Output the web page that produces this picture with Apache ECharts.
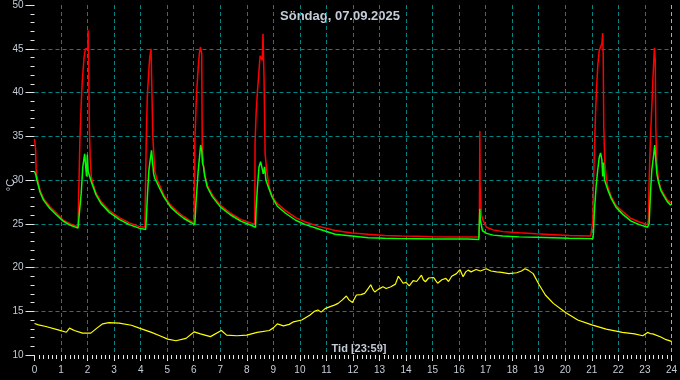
<!DOCTYPE html>
<html>
<head>
<meta charset="utf-8">
<script src="https://cdn.jsdelivr.net/npm/echarts@6/dist/echarts.min.js"></script>
<style>
html,body{margin:0;padding:0;background:#000;}
#wrap{width:680px;height:380px;box-sizing:border-box;border:1px solid #d8d8d8;background:#000;position:relative;}
#chart{position:absolute;left:-1px;top:-1px;width:680px;height:380px;}
</style>
</head>
<body>
<div id="wrap"><div id="chart"></div></div>
<script>
const titleText = "Söndag, 07.09.2025";
const xAxisName = "Tid [23:59]";
const yAxisName = "°C";
const xTicks = [0,24,1];
const yTicks = [10,50,5];

const redT = [0.00,0.03,0.04,0.06,0.09,0.21,0.34,0.58,0.83,1.08,1.33,1.64,1.70,1.71,1.76,1.80,1.84,1.87,1.92,1.97,2.01,2.02,2.04,2.07,2.10,2.14,2.20,2.32,2.51,2.82,3.19,3.57,3.94,4.16,4.20,4.21,4.25,4.29,4.34,4.39,4.42,4.44,4.46,4.50,4.53,4.60,4.69,4.87,5.13,5.38,5.63,5.88,6.01,6.03,6.04,6.09,6.13,6.17,6.21,6.25,6.27,6.30,6.32,6.36,6.41,6.51,6.70,7.01,7.39,7.77,8.14,8.30,8.31,8.35,8.40,8.46,8.50,8.55,8.58,8.61,8.65,8.69,8.75,8.84,8.96,9.15,9.46,9.84,10.21,10.71,11.33,11.96,12.58,13.20,13.83,14.45,15.07,15.70,16.32,16.76,16.77,16.78,16.79,16.84,16.90,17.03,17.28,17.65,18.27,18.90,20.14,20.96,21.02,21.04,21.06,21.10,21.14,21.18,21.23,21.28,21.33,21.38,21.41,21.43,21.45,21.49,21.54,21.60,21.73,21.91,22.16,22.48,22.79,23.10,23.13,23.16,23.21,23.26,23.30,23.34,23.36,23.39,23.41,23.45,23.51,23.60,23.73,23.85,23.98];
const redV = [34.7,34.7,33.6,31.3,30.4,28.8,27.9,26.95,26.2,25.4,25.0,24.65,24.6,34.5,38.7,41.3,42.9,44.1,45.0,45.2,45.0,47.1,42.6,35.7,32.3,30.4,29.6,28.5,27.5,26.5,25.7,25.1,24.7,24.6,24.55,34.5,39.5,41.6,44.0,45.0,45.2,45.0,34.9,32.7,31.1,30.2,29.6,28.3,27.1,26.4,25.8,25.3,25.1,25.0,34.2,38.7,41.0,42.9,44.4,45.2,45.3,44.5,34.2,31.9,30.7,29.4,28.3,27.1,26.2,25.5,25.1,24.96,34.2,37.6,40.1,42.5,44.2,44.2,43.7,46.7,41.4,33.0,31.1,29.2,28.1,27.3,26.5,25.7,25.2,24.7,24.24,23.94,23.8,23.67,23.6,23.56,23.5,23.48,23.48,23.48,29.4,35.6,29.4,26.0,25.4,24.6,24.3,24.1,23.97,23.86,23.67,23.6,23.6,25.4,29.2,33.8,37.6,40.6,43.3,44.8,45.2,45.6,46.8,44.0,36.1,31.9,30.4,29.2,28.1,27.1,26.4,25.6,25.2,24.9,25.4,30.0,34.9,38.3,41.4,44.0,45.1,43.7,36.1,31.9,30.0,29.0,28.3,27.7,27.4];

const greenT = [0.00,0.05,0.09,0.21,0.34,0.58,0.83,1.08,1.33,1.64,1.70,1.72,1.76,1.82,1.89,1.94,1.96,1.99,2.02,2.05,2.10,2.14,2.20,2.32,2.51,2.82,3.19,3.57,3.94,4.19,4.21,4.26,4.31,4.36,4.41,4.44,4.49,4.53,4.60,4.69,4.87,5.13,5.38,5.63,5.88,6.04,6.06,6.09,6.17,6.26,6.30,6.33,6.37,6.41,6.51,6.70,7.01,7.39,7.77,8.14,8.33,8.35,8.40,8.46,8.52,8.58,8.62,8.67,8.72,8.80,8.96,9.15,9.46,9.84,10.21,10.71,11.33,11.96,12.58,13.20,13.83,14.45,15.07,15.70,16.32,16.74,16.77,16.78,16.80,16.88,17.03,17.28,17.65,18.27,18.90,20.14,20.96,21.04,21.06,21.10,21.16,21.22,21.28,21.33,21.38,21.41,21.44,21.48,21.54,21.60,21.73,21.91,22.16,22.48,22.79,23.10,23.15,23.16,23.21,23.26,23.32,23.37,23.41,23.45,23.51,23.60,23.73,23.85,23.98];
const greenV = [31.0,30.6,30.0,28.6,27.7,26.75,26.0,25.3,24.85,24.5,24.35,24.4,28.5,31.5,33.0,32.8,30.4,32.9,31.0,30.7,30.2,29.8,29.3,28.3,27.3,26.3,25.5,24.9,24.5,24.35,25.4,28.5,31.1,32.3,33.4,32.3,30.7,30.2,29.8,29.2,28.1,26.9,26.2,25.6,25.15,24.9,24.8,27.7,31.1,34.0,33.4,31.9,31.5,30.5,29.2,28.1,26.9,26.0,25.3,24.85,24.6,26.7,29.2,31.5,32.1,32.0,30.7,31.5,30.0,29.3,28.0,27.0,26.2,25.4,24.9,24.4,23.8,23.6,23.4,23.35,23.3,23.28,23.26,23.25,23.25,23.2,23.0,26.7,25.4,24.2,23.9,23.7,23.6,23.5,23.45,23.35,23.3,23.3,23.9,26.6,29.2,31.1,32.6,33.1,32.3,30.4,32.0,30.0,29.8,28.9,27.9,26.9,26.1,25.3,24.9,24.6,24.6,25.0,28.5,31.1,32.6,34.0,32.3,30.7,29.8,28.8,28.1,27.5,27.1];

const yellowT = [0.00,0.15,0.43,0.89,1.20,1.32,1.50,1.81,2.12,2.35,2.57,2.80,3.19,3.65,3.95,4.41,4.72,5.02,5.33,5.71,6.02,6.25,6.63,7.04,7.24,7.62,8.00,8.39,8.85,9.00,9.15,9.38,9.60,9.76,10.07,10.37,10.55,10.68,10.80,10.95,11.14,11.30,11.44,11.60,11.75,11.85,11.98,12.05,12.13,12.30,12.44,12.55,12.67,12.75,12.82,12.95,13.13,13.25,13.43,13.60,13.71,13.80,13.89,14.00,14.12,14.27,14.40,14.58,14.65,14.73,14.85,15.04,15.12,15.19,15.35,15.50,15.60,15.72,15.90,16.03,16.15,16.25,16.34,16.45,16.64,16.80,17.02,17.20,17.41,17.60,17.87,18.17,18.35,18.48,18.60,18.79,19.02,19.25,19.55,20.01,20.47,21.00,21.54,22.15,22.61,22.92,23.10,23.20,23.30,23.60,23.80,24.00];
const yellowV = [13.6,13.45,13.26,12.88,12.6,13.07,12.8,12.5,12.5,13.07,13.56,13.7,13.64,13.4,13.07,12.58,12.2,11.82,11.63,11.9,12.65,12.42,12.1,12.8,12.27,12.2,12.27,12.58,12.8,13.1,13.56,13.33,13.5,13.79,14.0,14.55,15.0,15.15,14.9,15.3,15.53,15.7,15.9,16.3,16.74,16.3,16.0,16.4,16.86,16.9,17.05,17.5,18.03,17.5,17.2,17.5,17.8,17.6,17.8,18.1,19.0,18.6,18.2,18.3,17.9,18.5,18.4,19.13,18.6,18.37,18.8,18.86,18.5,18.2,18.6,18.75,18.4,19.0,19.3,19.77,18.94,19.5,19.7,19.5,19.77,19.6,19.85,19.6,19.5,19.45,19.3,19.4,19.6,19.85,19.7,19.3,18.0,16.86,15.9,14.85,14.0,13.45,12.95,12.58,12.42,12.2,12.58,12.45,12.42,12.05,11.75,11.55];

const zip = (t, v) => t.map((x, i) => [x, v[i]]);
const TEAL = '#008585';
const LABEL = '#c4ccd8';
const TICK = '#e4e4e4';
const FONT = 'Liberation Sans';

const nX = Math.round((xTicks[1]-xTicks[0])/xTicks[2]) + 1;
const xSplitColors = [];
for (let i = 0; i < nX; i++) xSplitColors.push(i === 0 ? 'rgba(0,0,0,0)' : (i === nX-1 ? '#30d8f0' : TEAL));
const nY = Math.round((yTicks[1]-yTicks[0])/yTicks[2]) + 1;
const ySplitColors = [];
for (let i = 0; i < nY; i++) ySplitColors.push((i === 0 || i === nY-1) ? 'rgba(0,0,0,0)' : TEAL);

const chart = echarts.init(document.getElementById('chart'), null, {renderer: 'canvas'});
chart.setOption({
  backgroundColor: '#000',
  animation: false,
  grid: {left: 34.5, right: 4.5, top: 4, bottom: 25, containLabel: false},
  xAxis: {
    type: 'value', min: xTicks[0], max: xTicks[1], interval: xTicks[2],
    axisLine: {show: false},
    axisTick: {show: true, length: 6, lineStyle: {color: TICK, width: 1}},
    minorTick: {show: true, splitNumber: 6, length: 4, lineStyle: {color: TICK, width: 1}},
    axisLabel: {color: LABEL, fontFamily: FONT, fontSize: 10, margin: 10},
    splitLine: {show: true, lineStyle: {color: xSplitColors, type: [4,3], width: 1}}
  },
  yAxis: {
    type: 'value', min: yTicks[0], max: yTicks[1], interval: yTicks[2],
    axisLine: {show: false},
    axisTick: {show: true, length: 9, lineStyle: {color: TICK, width: 1}},
    minorTick: {show: true, splitNumber: 5, length: 4, lineStyle: {color: TICK, width: 1}},
    axisLabel: {color: LABEL, fontFamily: FONT, fontSize: 10, margin: 11},
    splitLine: {show: true, lineStyle: {color: ySplitColors, type: [4,3], width: 1}}
  },
  graphic: [
    {type: 'text', left: 'center', top: 10, style: {text: titleText, fill: LABEL, font: 'bold 13px "Liberation Sans"'}},
    {type: 'text', x: 359, y: 349, style: {text: xAxisName, fill: LABEL, font: 'bold 11px "Liberation Sans"', align: 'center', verticalAlign: 'middle'}},
    {type: 'text', x: 11, y: 185, rotation: Math.PI/2, style: {text: yAxisName, fill: LABEL, font: '11px "Liberation Sans"', align: 'center', verticalAlign: 'middle'}}
  ],
  series: [
    {type: 'line', data: zip(redT, redV), showSymbol: false, lineStyle: {color: '#ff0000', width: 1.5}, z: 3},
    {type: 'line', data: zip(greenT, greenV), showSymbol: false, lineStyle: {color: '#00ff00', width: 1.5}, z: 4},
    {type: 'line', data: zip(yellowT, yellowV), showSymbol: false, lineStyle: {color: '#ffff00', width: 1.2}, z: 5}
  ]
});
</script>
</body>
</html>
